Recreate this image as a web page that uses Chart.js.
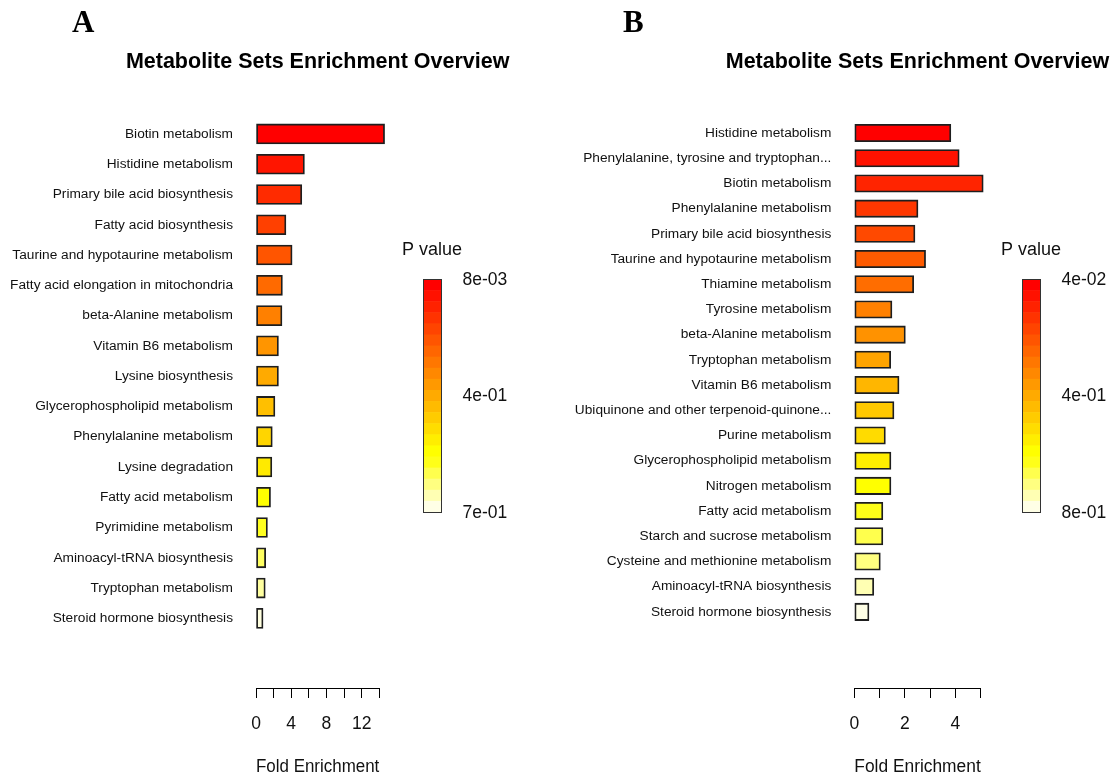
<!DOCTYPE html>
<html>
<head>
<meta charset="utf-8">
<script src="https://cdn.jsdelivr.net/npm/chart.js@4.4.1/dist/chart.umd.min.js"></script>
<style>
  body { margin: 0; background: #fff; width: 1120px; height: 778px; position: relative; overflow: hidden; }
  .panel { position: absolute; top: 0; width: 560px; height: 778px; }
  .letter { position: absolute; font: bold 31px "Liberation Serif", "Times New Roman", serif; line-height: 31px; color: #000; }
</style>
</head>
<body>
<div class="panel" style="left:0"><canvas id="chartA" width="560" height="778"></canvas></div>
<div class="panel" style="left:560px"><canvas id="chartB" width="560" height="778"></canvas></div>
<div class="letter" style="left:72px;top:6px">A</div>
<div class="letter" style="left:623px;top:6px">B</div>
<script>
// Panel A data
const setsA = [
  'Biotin metabolism', 'Histidine metabolism', 'Primary bile acid biosynthesis',
  'Fatty acid biosynthesis', 'Taurine and hypotaurine metabolism',
  'Fatty acid elongation in mitochondria', 'beta-Alanine metabolism',
  'Vitamin B6 metabolism', 'Lysine biosynthesis', 'Glycerophospholipid metabolism',
  'Phenylalanine metabolism', 'Lysine degradation', 'Fatty acid metabolism',
  'Pyrimidine metabolism', 'Aminoacyl-tRNA biosynthesis', 'Tryptophan metabolism',
  'Steroid hormone biosynthesis'
];
const foldA = [14.6, 5.5, 5.2, 3.4, 4.1, 3.0, 2.95, 2.55, 2.55, 2.15, 1.85, 1.8, 1.65, 1.3, 1.1, 1.05, 0.8];
const pLabelsA = ['8e-03', '4e-01', '7e-01'];

// Panel B data
const setsB = [
  'Histidine metabolism', 'Phenylalanine, tyrosine and tryptophan...', 'Biotin metabolism',
  'Phenylalanine metabolism', 'Primary bile acid biosynthesis', 'Taurine and hypotaurine metabolism',
  'Thiamine metabolism', 'Tyrosine metabolism', 'beta-Alanine metabolism', 'Tryptophan metabolism',
  'Vitamin B6 metabolism', 'Ubiquinone and other terpenoid-quinone...', 'Purine metabolism',
  'Glycerophospholipid metabolism', 'Nitrogen metabolism', 'Fatty acid metabolism',
  'Starch and sucrose metabolism', 'Cysteine and methionine metabolism',
  'Aminoacyl-tRNA biosynthesis', 'Steroid hormone biosynthesis'
];
const foldB = [3.82, 4.15, 5.1, 2.52, 2.4, 2.82, 2.35, 1.49, 2.02, 1.44, 1.77, 1.57, 1.23, 1.45, 1.45, 1.13, 1.13, 1.03, 0.77, 0.58];
const pLabelsB = ['4e-02', '4e-01', '8e-01'];

const chartTitle = 'Metabolite Sets Enrichment Overview';
const FONT = '"Liberation Sans", Arial, sans-serif';
Chart.defaults.font.family = FONT;

// same palette as R heat.colors(n)
function heatColors(n) {
  const j = Math.floor(n / 4), i = n - j;
  const out = [];
  for (let k = 0; k < i; k++) {
    const g = Math.round(255 * (i > 1 ? k / (i - 1) : 0));
    out.push(`rgb(255,${g},0)`);
  }
  for (let m = 0; m < j; m++) {
    const s = j > 1 ? (1 - 1 / (2 * j)) - m * (1 - 1 / j) / (j - 1) : 0.5;
    out.push(`rgb(255,255,${Math.round(255 * (1 - s))})`);
  }
  return out;
}

// title above the plot + the P value colour key on the right
function decorations(cb, labels) {
  return {
    id: 'decorations',
    afterDraw(chart) {
      const ctx = chart.ctx;
      const area = chart.chartArea;
      ctx.save();
      ctx.fillStyle = '#000';
      ctx.font = `bold 21.5px ${FONT}`;
      ctx.textAlign = 'center';
      ctx.textBaseline = 'middle';
      ctx.fillText(chartTitle, (area.left + area.right) / 2, 62.5);

      const bands = heatColors(21);
      const h = (cb.bottom - cb.top) / bands.length;
      bands.forEach((c, k) => {
        ctx.fillStyle = c;
        ctx.fillRect(cb.left, cb.top + k * h, cb.width, h + 0.6);
      });
      ctx.strokeStyle = '#333';
      ctx.lineWidth = 1;
      ctx.strokeRect(cb.left + 0.5, cb.top + 0.5, cb.width, cb.bottom - cb.top);
      ctx.fillStyle = '#111';
      ctx.font = `18px ${FONT}`;
      ctx.fillText('P value', cb.left + cb.width / 2, 250);
      ctx.font = `17.5px ${FONT}`;
      ctx.textAlign = 'left';
      labels.forEach((t, k) => {
        ctx.fillText(t, cb.left + cb.width + 21.5, cb.top + k * (cb.bottom - cb.top) / (labels.length - 1) + 1);
      });
      ctx.restore();
    }
  };
}

function drawPanel(id, labels, values, pLabels, cfg) {
  new Chart(document.getElementById(id), {
    type: 'bar',
    data: {
      datasets: [{
        data: values.map((v, i) => ({ x: v, y: i })),
        backgroundColor: heatColors(values.length),
        borderColor: '#1e1e1e',
        borderWidth: 1.8,
        borderSkipped: false,
        barThickness: cfg.barThickness,
        clip: false
      }]
    },
    options: {
      indexAxis: 'y',
      responsive: false,
      animation: false,
      devicePixelRatio: 1,
      layout: { padding: { left: 0, right: cfg.padRight, top: cfg.padTop, bottom: 0 } },
      plugins: {
        legend: { display: false },
        tooltip: { enabled: false },
        title: { display: false }
      },
      scales: {
        y: {
          type: 'linear',
          reverse: true,
          offset: false,
          bounds: 'data',
          min: -0.5,
          max: cfg.yMax,
          grid: { display: false, drawTicks: false, tickLength: 0 },
          border: { display: false },
          afterDataLimits: s => { s.min = -0.5; s.max = cfg.yMax; },
          afterFit: s => { s.width = cfg.axisWidth; },
          afterBuildTicks: s => { s.ticks = labels.map((_, i) => ({ value: i })); },
          ticks: { padding: 23, color: '#111', font: { size: 13.7 }, callback: v => labels[v] }
        },
        x: {
          type: 'linear',
          min: 0,
          max: cfg.xMax,
          grid: { display: true, drawOnChartArea: false, tickLength: 10, color: '#000', lineWidth: 1 },
          border: { color: '#000', width: 1 },
          afterFit: s => { s.height = 90; },
          ticks: {
            stepSize: cfg.step,
            padding: 15.5,
            color: '#111',
            font: { size: 17.5 },
            autoSkip: false,
            maxRotation: 0,
            callback: v => (v % cfg.labelEvery === 0 ? v : '')
          },
          title: { display: true, text: 'Fold Enrichment', color: '#111', font: { size: 18 }, padding: 0 }
        }
      }
    },
    plugins: [decorations(cfg.cb, pLabels)]
  });
}

drawPanel('chartA', setsA, foldA, pLabelsA, {
  axisWidth: 256, padRight: 180.7, padTop: 118.8, xMax: 14, step: 2, labelEvery: 4,
  barThickness: 20, yMax: 18.3,
  cb: { left: 423, top: 279, bottom: 512, width: 18 }
});

drawPanel('chartB', setsB, foldB, pLabelsB, {
  axisWidth: 294.3, padRight: 139.3, padTop: 120.4, xMax: 5, step: 1, labelEvery: 2,
  barThickness: 17.4, yMax: 22.02,
  cb: { left: 462, top: 279, bottom: 512, width: 18 }
});
</script>
</body>
</html>
